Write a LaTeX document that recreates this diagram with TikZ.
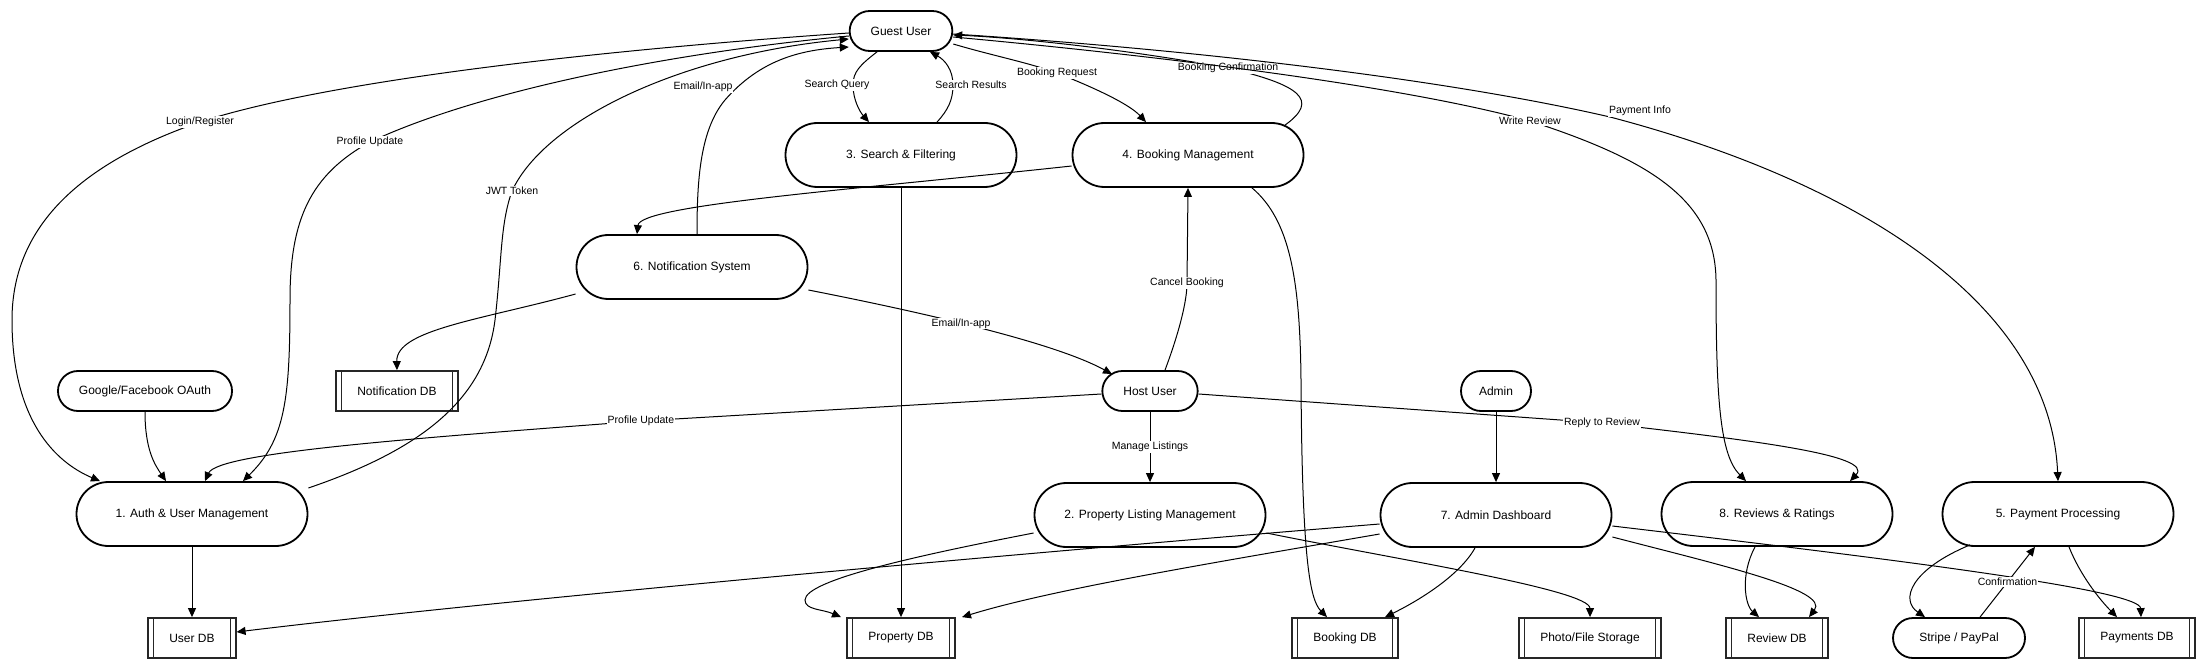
\documentclass[tikz,border=0pt]{standalone}
\usepackage{fontspec}
\setmainfont{Liberation Sans}
\usetikzlibrary{positioning, arrows.meta}

\tikzset{
  main node/.style={draw, line width=1.8pt, fill=white, rounded corners=20pt, minimum height=40pt, inner xsep=21pt, font=\fontsize{12}{14}\selectfont},
  big node/.style={main node, rounded corners=32pt, minimum height=64pt, minimum width=231pt},
  db node/.style={draw=black!85, line width=1.8pt, fill=white, minimum height=40pt, inner xsep=21pt, font=\fontsize{12}{14}\selectfont,
    path picture={
      \draw[-, line width=1.5pt] ([xshift=5pt]path picture bounding box.north west) -- ([xshift=5pt]path picture bounding box.south west);
      \draw[-, line width=1.5pt] ([xshift=-5pt]path picture bounding box.north east) -- ([xshift=-5pt]path picture bounding box.south east);
    }},
  flow label/.style={fill=white, inner sep=1pt, font=\fontsize{10.5}{12}\selectfont}
}

\begin{document}
\begin{tikzpicture}[x=1pt, y=-1pt, ->, >={Triangle[length=9pt, width=8pt]}, line width=1pt, node distance=124pt]

        \useasboundingbox (0,0) rectangle (2209,668);

        \node[main node] (guest) at (901,31) {Guest User};
        \node[big node] (search) [below of=guest] {3. Search \& Filtering};
        \node[big node] (booking) [right of=search, xshift=163pt] {4. Booking Management};
        \node[big node] (notif) at (692,267) {6. Notification System};

        \node[main node] (oauth) at (145,391) {Google/Facebook OAuth};
        \node[db node] (notifdb) at (397,391) {Notification DB};
        \node[main node] (host) at (1150,391) {Host User};
        \node[main node, inner xsep=18pt] (admin) at (1496,391) {Admin};

        \node[big node] (auth) at (192,514) {1. Auth \& User Management};
        \node[big node] (plm) [below of=host] {2. Property Listing Management};
        \node[big node] (dash) [below of=admin] {7. Admin Dashboard};
        \node[big node] (reviews) at (1777,514) {8. Reviews \& Ratings};
        \node[big node] (pay) at (2058,514) {5. Payment Processing};

        \node[db node] (userdb) [below of=auth] {User DB};
        \node[db node] (propdb) at (901,638) {Property DB};
        \node[db node] (bookdb) at (1345,638) {Booking DB};
        \node[db node] (photo) at (1590,638) {Photo/File Storage};
        \node[db node] (reviewdb) [below of=reviews] {Review DB};
        \node[main node, minimum width=132pt] (stripe) at (1959,638) {Stripe / PayPal};
        \node[db node] (paydb) at (2137,638) {Payments DB};

        % Guest user
        \draw ([yshift=-2pt]guest.west) .. controls (600,50) and (330,80) .. (200,122) node[flow label] {Login/Register}
              .. controls (90,160) and (12,220) .. (12,320) .. controls (12,420) and (55,462) .. ([xshift=-92pt]auth.north);
        \draw ([yshift=-5pt]guest.west) .. controls (650,55) and (470,95) .. (370,142) node[flow label] {Profile Update}
              .. controls (310,175) and (290,220) .. (290,300) .. controls (290,400) and (285,440) .. ([xshift=51pt]auth.north);
        \draw ([yshift=26pt]auth.east) .. controls (420,450) and (485,400) .. (495,320) .. controls (502,260) and (500,225) .. (512,191) node[flow label] {JWT Token}
              .. controls (545,120) and (680,55) .. ([yshift=-8pt]guest.west);
        \draw ([xshift=5pt]notif.north) .. controls (697,180) and (700,130) .. (725,100) .. controls (760,60) and (800,50) .. ([yshift=-16pt]guest.west)
              node[flow label] at (703,87) {Email/In-app};
        \draw ([xshift=-24pt]guest.south) .. controls (860,65) and (853,72) .. (853,85) .. controls (853,100) and (860,112) .. ([xshift=-32pt]search.north)
              node[flow label] at (837,85) {Search Query};
        \draw ([xshift=36pt]search.north) .. controls (948,110) and (953,100) .. (953,85) .. controls (953,70) and (945,60) .. ([xshift=29pt]guest.south)
              node[flow label] at (971,85) {Search Results};
        \draw ([yshift=-13pt]guest.east) .. controls (990,55) and (1030,63) .. (1057,73) node[flow label] {Booking Request}
              .. controls (1100,90) and (1130,105) .. ([xshift=-42pt]booking.north);
        \draw ([xshift=97pt, yshift=-3pt]booking.north) .. controls (1320,100) and (1300,85) .. (1228,68) node[flow label] {Booking Confirmation}
              .. controls (1100,45) and (1000,37) .. ([yshift=-4pt]guest.east);
        \draw ([yshift=-6pt]guest.east) .. controls (1150,55) and (1400,85) .. (1530,121) node[flow label] {Write Review}
              .. controls (1650,160) and (1715,200) .. (1716,280) .. controls (1716,400) and (1720,455) .. ([xshift=-31pt]reviews.north);
        \draw ([yshift=-3pt]guest.east) .. controls (1200,50) and (1450,80) .. (1610,117) node[flow label] at (1640,111) {Payment Info}
              .. controls (1850,180) and (2050,300) .. (pay.north);

        % Booking and notifications
        \draw ([yshift=-11pt]booking.west) .. controls (850,190) and (640,205) .. ([xshift=-55pt]notif.north);
        \draw ([xshift=64pt]booking.south) .. controls (1290,220) and (1300,280) .. (1301,380) .. controls (1302,560) and (1310,600) .. ([xshift=-18pt]bookdb.north);
        \draw (search) -- (propdb);
        \draw ([yshift=-27pt]notif.west) .. controls (480,320) and (396,330) .. (notifdb.north);
        \draw ([yshift=-23pt]notif.east) .. controls (900,308) and (1050,340) .. ([xshift=-38pt, yshift=-4pt]host.north) node[flow label, pos=0.47] {Email/In-app};

        % Host user
        \draw ([xshift=15pt]host.north) .. controls (1180,330) and (1187,300) .. (1187,283) node[flow label] {Cancel Booking} -- (booking.south);
        \draw ([yshift=-3pt]host.west) -- (641,421) node[flow label] {Profile Update} .. controls (420,438) and (218,452) .. ([xshift=13pt]auth.north);
        \draw (host) -- (plm) node[flow label, midway] {Manage Listings};
        \draw ([yshift=-3pt]host.east) -- (1602,423) node[flow label] {Reply to Review} .. controls (1750,440) and (1875,455) .. ([xshift=73pt]reviews.north);

        \draw (oauth.south) .. controls (145,450) and (155,465) .. ([xshift=-26pt]auth.north);
        \draw (admin) -- (dash);
        \draw (auth) -- (userdb);

        % Data stores
        \draw ([yshift=-18pt]plm.west) .. controls (920,555) and (805,580) .. (805,600) .. controls (805,610) and (822,609) .. ([xshift=-60pt]propdb.north);
        \draw ([yshift=-18pt]plm.east) .. controls (1400,560) and (1590,590) .. (photo.north);
        \draw ([yshift=-9pt]dash.west) .. controls (1000,555) and (500,600) .. ([yshift=6pt]userdb.east);
        \draw ([yshift=-19pt]dash.west) .. controls (1200,565) and (1050,590) .. ([xshift=61pt]propdb.north);
        \draw ([xshift=-21pt]dash.south) .. controls (1460,575) and (1420,600) .. ([xshift=40pt]bookdb.north);
        \draw ([yshift=-22pt]dash.east) .. controls (1720,565) and (1830,590) .. ([xshift=32pt]reviewdb.north);
        \draw ([yshift=-11pt]dash.east) .. controls (1900,560) and (2140,590) .. ([xshift=4pt]paydb.north);
        \draw ([xshift=-22pt]reviews.south) .. controls (1740,575) and (1745,605) .. ([xshift=-18pt]reviewdb.north);

        % Payments
        \draw ([xshift=-88pt, yshift=2pt]pay.south) .. controls (1910,570) and (1900,600) .. ([xshift=-34pt]stripe.north);
        \draw ([xshift=21pt]stripe.north) -- ([xshift=-23pt]pay.south) node[flow label, midway] {Confirmation};
        \draw ([xshift=11pt]pay.south) .. controls (2080,575) and (2100,600) .. ([xshift=-20pt]paydb.north);

\end{tikzpicture}
\end{document}
